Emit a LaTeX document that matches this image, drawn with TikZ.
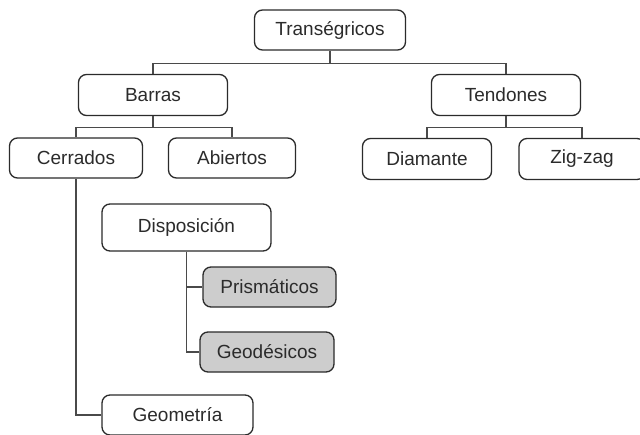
\documentclass[tikz,border=0pt]{standalone}
\usepackage{fontspec}
\setmainfont{Liberation Sans}
\usepackage{tikz}
\usetikzlibrary{positioning}
\definecolor{ink}{HTML}{2B2B2B}
\definecolor{wire}{HTML}{4A4A4A}
\definecolor{shade}{HTML}{CDCDCD}
\tikzset{
  every node/.style={font=\fontsize{19}{22}\selectfont,text=ink},
  item/.style={draw=ink,line width=1.3pt,rounded corners=8pt,fill=white,align=center,inner sep=0pt,minimum height=40pt},
  greyitem/.style={item,fill=shade},
  link/.style={draw=wire,line width=1.6pt}
}

\begin{document}
\begin{tikzpicture}[x=1pt,y=-1pt,on grid]
  \useasboundingbox[fill=white] (0,0) rectangle (640,434);

  \node[item,minimum width=151pt] (trans) at (330,30) {Transégricos};
  \node[item,minimum width=149pt,minimum height=41pt,below left=65pt and 177pt of trans] (barras) {Barras};
  \node[item,minimum width=149pt,minimum height=41pt,below right=65pt and 176pt of trans] (tend) {Tendones};

  \node[item,minimum width=133pt,below left=63pt and 77pt of barras] (cerr) {Cerrados};
  \node[item,minimum width=127pt,below right=63pt and 79pt of barras] (abie) {Abiertos};
  \node[item,minimum width=129pt,minimum height=41pt,below left=64pt and 79pt of tend] (diam) {Diamante};
  \node[item,minimum width=126pt,minimum height=41pt,below right=64pt and 76pt of tend] (zig) {Zig-zag};

  \node[item,minimum width=169pt,minimum height=47pt,below right=69.5pt and 110.5pt of cerr] (disp) {Disposición};
  \node[greyitem,minimum width=133pt,below right=59.5pt and 83pt of disp] (pris) {Prismáticos};
  \node[greyitem,minimum width=134pt,below left=65pt and 2.5pt of pris] (geod) {Geodésicos};
  \node[item,minimum width=151pt,below left=63pt and 89.5pt of geod] (geom) {Geometría};

  \draw[link] (trans.south) -- ++(0,13) -| (barras.north);
  \draw[link] (trans.south) -- ++(0,13) -| (tend.north);
  \draw[link] (barras.south) -- ++(0,11.5) -| (cerr.north);
  \draw[link] (barras.south) -- ++(0,11.5) -| (abie.north);
  \draw[link] (tend.south) -- ++(0,11.5) -| (diam.north);
  \draw[link] (tend.south) -- ++(0,11.5) -| (zig.north);
  \draw[link] (cerr.south) |- (geom.west);
  \draw[link] (disp.south) |- (pris.west);
  \draw[link] (disp.south) |- (geod.west);
\end{tikzpicture}
\end{document}
